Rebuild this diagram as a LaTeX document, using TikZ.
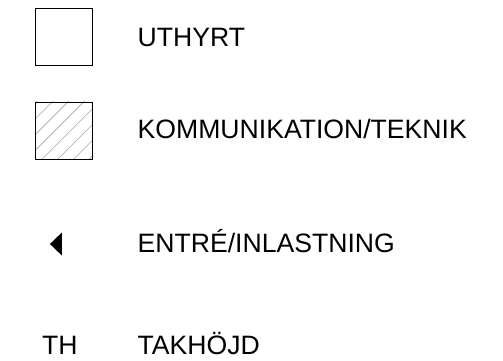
\documentclass[tikz,border=0pt]{standalone}
\usepackage{fontspec}
\setmainfont{Liberation Sans}
\usepackage{tikz}
\usetikzlibrary{shapes.geometric}
\tikzstyle{legendbox} = [draw, line width=0.9pt, minimum size=57pt, inner sep=0pt]
\tikzstyle{legendtext} = [anchor=base west, inner sep=0pt, font=\fontsize{26.6}{30}\selectfont]

\begin{document}
\begin{tikzpicture}[x=1pt, y=1pt]
  	\useasboundingbox (0,0) rectangle (503,360);
  	\node[legendbox] (uthyrt) at (64,323.5) {};
  	\node[legendbox] (komm) at (64,229.5) {};
  	\begin{scope}
  	  	\clip (komm.south west) rectangle (komm.north east);
  	  	\foreach \s in {-56,-40.3,...,60}
  	  	  	\draw[gray!70, line width=0.6pt] ([xshift=\s pt]komm.south west) -- ++(60,60);
  	\end{scope}
  	\node[legendbox] at (komm) {};
  	\node[fill, isosceles triangle, isosceles triangle stretches, shape border rotate=180, minimum height=12pt, minimum width=23pt, inner sep=0pt] (entre) at (57,116) {};
  	\node[legendtext] (thsym) at (42,6) {TH};
  	\node[legendtext] (l1) at (137.5,313.3) {UTHYRT};
  	\node[legendtext] (l2) at (137.5,222) {KOMMUNIKATION/TEKNIK};
  	\node[legendtext] (l3) at (137.5,108) {ENTRÉ/INLASTNING};
  	\node[legendtext] (l4) at (137.5,6) {TAKHÖJD};
\end{tikzpicture}
\end{document}
